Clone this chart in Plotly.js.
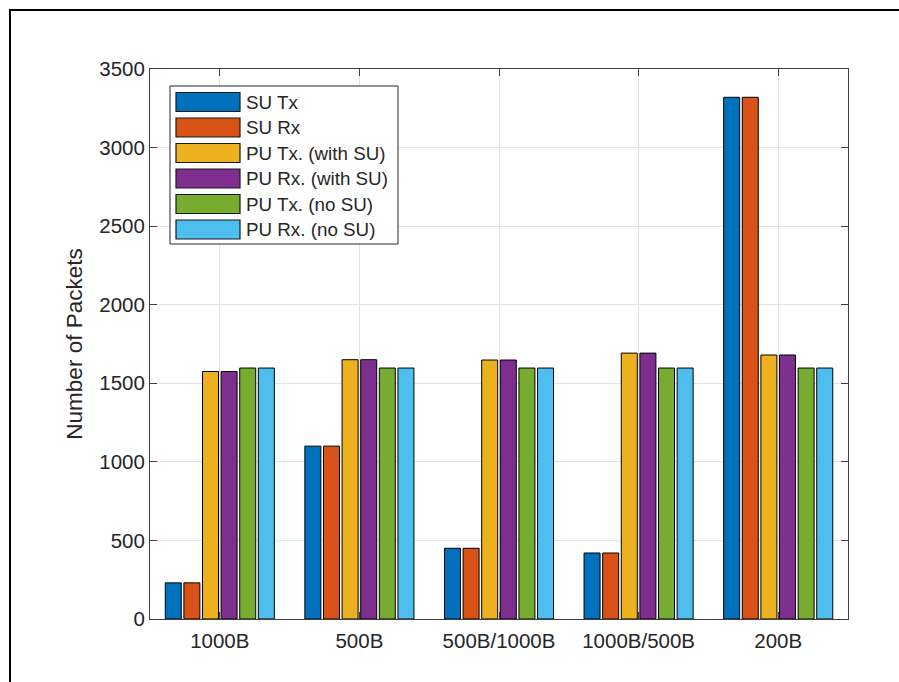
<!DOCTYPE html>
<html>
<head>
<meta charset="utf-8">
<script src="https://cdn.plot.ly/plotly-3.0.1.min.js"></script>
<style>
  html, body { margin: 0; padding: 0; background: #fff; }
  #wrap { position: relative; width: 899px; height: 682px; overflow: hidden; }
  #chart { width: 899px; height: 682px; }
  #frame { position: absolute; left: 9px; top: 9px; width: 1000px; height: 1000px;
           border-top: 2px solid #000; border-left: 2px solid #000; pointer-events: none; }
</style>
</head>
<body>
<div id="wrap">
  <div id="chart"></div>
  <div id="frame"></div>
</div>
<script>
// ---- data ----
const categories = ['1000B', '500B', '500B/1000B', '1000B/500B', '200B'];
const seriesNames = ['SU Tx', 'SU Rx', 'PU Tx. (with SU)', 'PU Rx. (with SU)', 'PU Tx. (no SU)', 'PU Rx. (no SU)'];
const suTx      = [230, 1100, 450, 420, 3320];
const suRx      = [230, 1100, 450, 420, 3320];
const puTxWith  = [1575, 1650, 1648, 1692, 1680];
const puRxWith  = [1575, 1650, 1648, 1692, 1680];
const puTxNo    = [1597, 1597, 1597, 1597, 1597];
const puRxNo    = [1597, 1597, 1597, 1597, 1597];
const yTicks    = [0, 500, 1000, 1500, 2000, 2500, 3000, 3500];

// ---- styles ----
const colors = ['#0072BD', '#D95319', '#EDB120', '#7E2F8E', '#77AC30', '#4DBEEE'];
const seriesValues = [suTx, suRx, puTxWith, puRxWith, puTxNo, puRxNo];
const font = 'Liberation Sans, Arial, Helvetica, sans-serif';
const textColor = '#262626';

const traces = seriesValues.map((vals, i) => ({
  type: 'bar',
  name: seriesNames[i],
  x: categories,
  y: vals,
  marker: { color: colors[i], line: { color: '#000', width: 1 } },
  showlegend: false,
  hoverinfo: 'x+y+name'
}));

// plot area in pixels
const L = 150, R = 848, T = 69, B = 619;
const W = 899, H = 682;
const px = v => (v - L) / (R - L);
const py = v => (B - v) / (B - T);

// custom MATLAB-style legend
const shapes = [];
const annotations = [];
shapes.push({ type: 'rect', xref: 'paper', yref: 'paper',
  x0: px(170), x1: px(398), y0: py(244), y1: py(86),
  fillcolor: '#fff', line: { color: '#262626', width: 1 }, layer: 'above' });
seriesNames.forEach((name, i) => {
  const cy = 102 + i * 25.5;
  shapes.push({ type: 'rect', xref: 'paper', yref: 'paper',
    x0: px(176), x1: px(240), y0: py(cy + 9.5), y1: py(cy - 9.5),
    fillcolor: colors[i], line: { color: '#1a1a1a', width: 1.2 }, layer: 'above' });
  annotations.push({ xref: 'paper', yref: 'paper', x: px(244), y: py(cy),
    xanchor: 'left', yanchor: 'middle', showarrow: false, text: name,
    font: { family: font, size: 18.8, color: textColor } });
});

const layout = {
  width: W, height: H,
  margin: { l: L, r: W - R, t: T, b: H - B, pad: 0 },
  paper_bgcolor: '#fff', plot_bgcolor: '#fff',
  barmode: 'group', bargap: 0.2, bargroupgap: 0.14,
  showlegend: false,
  font: { family: font, size: 20, color: textColor },
  xaxis: {
    type: 'category', range: [-0.5, 4.5], autorange: false,
    showline: true, linecolor: '#404040', linewidth: 1, mirror: 'allticks',
    ticks: 'inside', ticklen: 7, tickcolor: '#404040', tickwidth: 1,
    showgrid: true, gridcolor: '#e3e3e3', gridwidth: 1,
    tickfont: { family: font, size: 20.5, color: textColor },
    ticklabelstandoff: 3,
    zeroline: false
  },
  yaxis: {
    range: [0, 3500], autorange: false,
    tickvals: yTicks, ticktext: yTicks.map(String),
    showline: true, linecolor: '#404040', linewidth: 1, mirror: 'allticks',
    ticks: 'inside', ticklen: 7, tickcolor: '#404040', tickwidth: 1,
    showgrid: true, gridcolor: '#e3e3e3', gridwidth: 1,
    tickfont: { family: font, size: 20.5, color: textColor },
    zeroline: false,
    title: { text: 'Number of Packets', font: { family: font, size: 22.5, color: textColor }, standoff: 10 }
  },
  shapes: shapes,
  annotations: annotations
};

Plotly.newPlot('chart', traces, layout, { displayModeBar: false, staticPlot: true });
</script>
</body>
</html>
